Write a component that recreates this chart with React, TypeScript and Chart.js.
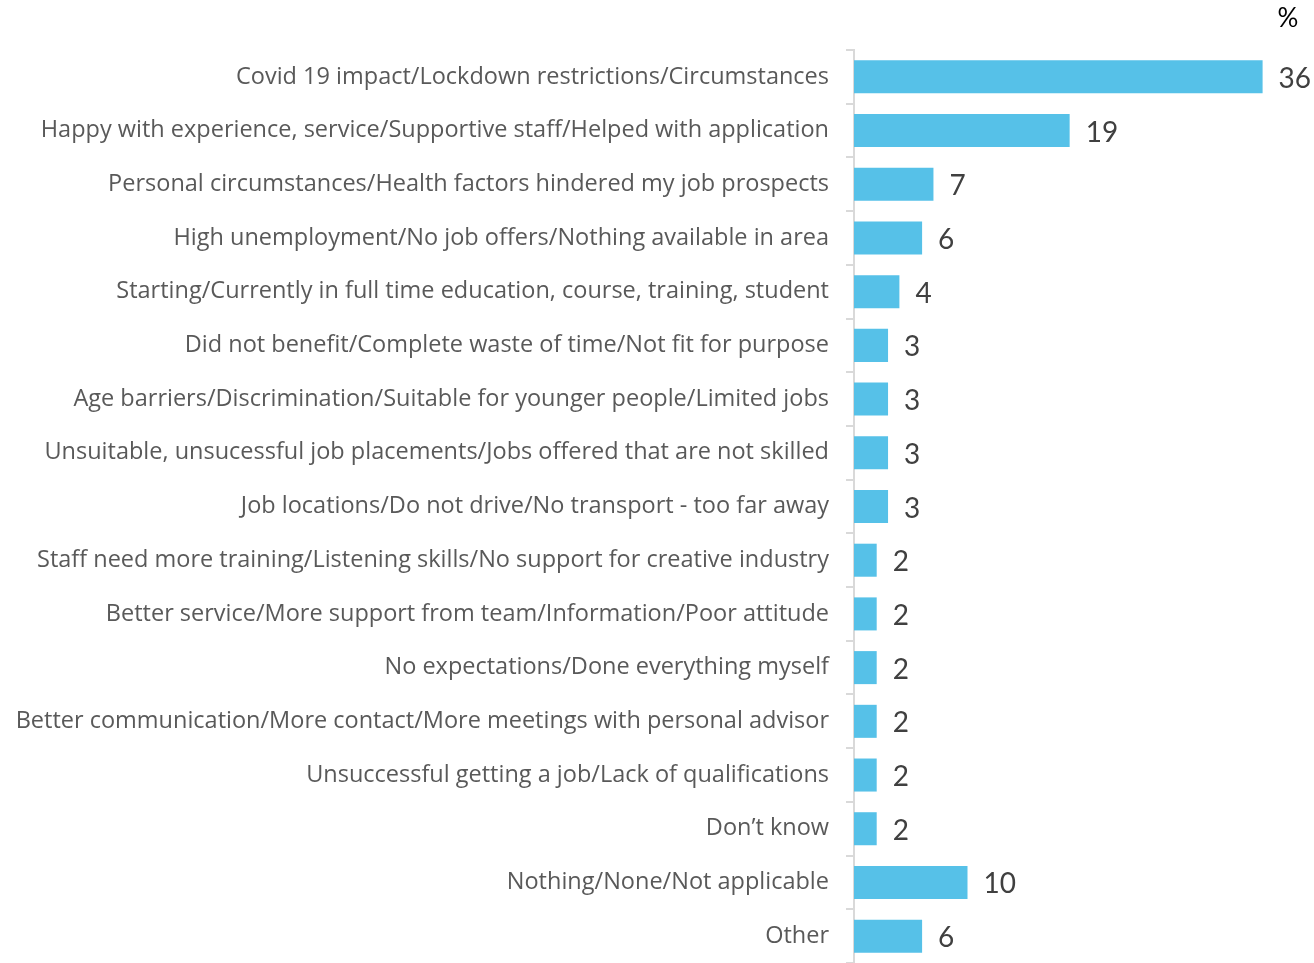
import React, { useEffect, useRef } from "react";
import { Chart, registerables } from "chart.js";

Chart.register(...registerables);

const categories: string[] = [
  "Covid 19 impact/Lockdown restrictions/Circumstances",
  "Happy with experience, service/Supportive staff/Helped with application",
  "Personal circumstances/Health factors hindered my job prospects",
  "High unemployment/No job offers/Nothing available in area",
  "Starting/Currently in full time education, course, training, student",
  "Did not benefit/Complete waste of time/Not fit for purpose",
  "Age barriers/Discrimination/Suitable for younger people/Limited jobs",
  "Unsuitable, unsucessful job placements/Jobs offered that are not skilled",
  "Job locations/Do not drive/No transport - too far away",
  "Staff need more training/Listening skills/No support for creative industry",
  "Better service/More support from team/Information/Poor attitude",
  "No expectations/Done everything myself",
  "Better communication/More contact/More meetings with personal advisor",
  "Unsuccessful getting a job/Lack of qualifications",
  "Don\u2019t know",
  "Nothing/None/Not applicable",
  "Other",
];

const values: number[] = [36, 19, 7, 6, 4, 3, 3, 3, 3, 2, 2, 2, 2, 2, 2, 10, 6];

const unitLabel = "%";

const LABEL_FONT = "'Open Sans', sans-serif";
const VALUE_FONT = "Lato, 'Open Sans', sans-serif";

const valueLabelPlugin = {
  id: "valueLabels",
  afterDatasetsDraw(chart: any) {
    const ctx = chart.ctx;
    const meta = chart.getDatasetMeta(0);
    ctx.save();
    ctx.font = `28px ${VALUE_FONT}`;
    ctx.fillStyle = "#404040";
    ctx.textAlign = "left";
    ctx.textBaseline = "middle";
    meta.data.forEach((bar: any, i: number) => {
      ctx.fillText(String(values[i]), bar.x + 16, bar.y + 2);
    });
    ctx.font = `26px ${VALUE_FONT}`;
    ctx.fillStyle = "#000000";
    ctx.textAlign = "center";
    ctx.fillText(unitLabel, 1288, 19);
    ctx.restore();
  },
};

export default function App() {
  const ref = useRef<HTMLCanvasElement | null>(null);
  useEffect(() => {
    if (!ref.current) return;
    const chart = new Chart(ref.current, {
      type: "bar",
      data: {
        labels: categories,
        datasets: [
          {
            data: values,
            backgroundColor: "#56C1E8",
            borderWidth: 0,
            categoryPercentage: 1,
            barPercentage: 0.615,
          },
        ],
      },
      options: {
        indexAxis: "y",
        animation: false,
        responsive: false,
        maintainAspectRatio: false,
        layout: { padding: { top: 50, right: 6, bottom: 0, left: 0 } },
        plugins: {
          legend: { display: false },
          tooltip: { enabled: false },
          title: { display: false },
        },
        scales: {
          x: {
            display: false,
            min: 0,
            max: 40,
          },
          y: {
            afterFit: (s: any) => {
              s.width = 854;
              s.paddingTop = 0;
              s.paddingBottom = 0;
            },
            border: { display: true, color: "#d9d9d9", width: 2 },
            grid: {
              display: true,
              drawOnChartArea: false,
              drawTicks: true,
              tickLength: 8,
              color: "#d9d9d9",
              lineWidth: 2,
              offset: true,
            },
            ticks: {
              padding: 17,
              color: "#595959",
              font: { family: LABEL_FONT, size: 23.5 },
              autoSkip: false,
            },
          },
        },
      },
      plugins: [valueLabelPlugin],
    });
    return () => chart.destroy();
  }, []);
  return (
    <div style={{ position: "absolute", left: 0, top: 0, width: 1314, height: 963 }}>
      <canvas ref={ref} width={1314} height={963} style={{ width: 1314, height: 963 }} />
    </div>
  );
}
